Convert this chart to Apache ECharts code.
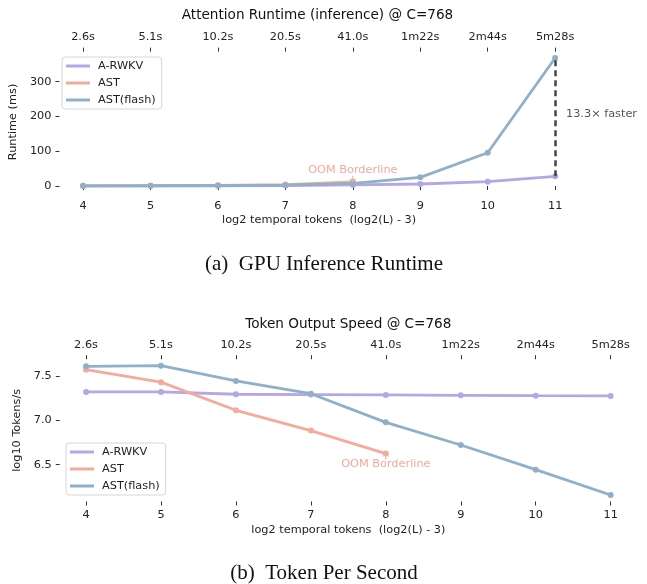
<!DOCTYPE html>
<html>
<head>
<meta charset="utf-8">
<script src="https://cdn.jsdelivr.net/npm/echarts@6/dist/echarts.min.js"></script>
<style>
  html, body { margin: 0; padding: 0; background: #fff; }
  #main { width: 647px; height: 584px; }
</style>
</head>
<body>
<div id="main"></div>
<script>
  // x 轴：log2 temporal tokens
  var xTicks = [4, 5, 6, 7, 8, 9, 10, 11];
  var timeLabels = ['2.6s', '5.1s', '10.2s', '20.5s', '41.0s', '1m22s', '2m44s', '5m28s'];

  // (a) runtime, ms
  var rwkvA  = [0.3, 0.5, 0.8, 1.5, 3, 5.8, 12.4, 27.7];
  var astA   = [0.5, 1, 2, 4, 12];
  var flashA = [0.4, 0.8, 1.5, 2.5, 7.7, 25, 95.7, 368];
  var yTicksA = [0, 100, 200, 300];

  // (b) log10 tokens/s
  var rwkvB  = [7.32, 7.32, 7.294, 7.29, 7.286, 7.282, 7.278, 7.275];
  var astB   = [7.571, 7.43, 7.113, 6.884, 6.625];
  var flashB = [7.609, 7.616, 7.444, 7.30, 6.977, 6.722, 6.444, 6.158];
  var yTicksB = [6.5, 7.0, 7.5];

  var C_RWKV = '#b5a6e6', C_AST = '#f4aa9c', C_FLASH = '#8fb0c8';
  var FONT = 'DejaVu Sans';

  function pairs(ys) {
    return ys.map(function (v, i) { return [xTicks[i], v]; });
  }
  // matplotlib 默认 5% 边距
  function pad(arrs) {
    var all = [].concat.apply([], arrs);
    var lo = Math.min.apply(null, all), hi = Math.max.apply(null, all);
    var m = (hi - lo) * 0.05;
    return [lo - m, hi + m];
  }
  var extA = pad([rwkvA, astA, flashA]);
  var extB = pad([rwkvB, astB, flashB]);

  function xAxisPair(gi, nameGap) {
    var base = {
      gridIndex: gi, type: 'value', min: 3.65, max: 11.35,
      axisLine: { show: false }, splitLine: { show: false },
      axisTick: { customValues: xTicks, length: 4, lineStyle: { color: '#333', width: 1 } }
    };
    return [
      Object.assign({}, base, {
        position: 'bottom',
        name: 'log2 temporal tokens  (log2(L) - 3)',
        nameLocation: 'middle', nameGap: nameGap,
        nameTextStyle: { fontFamily: FONT, fontSize: 11.3, color: '#222' },
        axisLabel: { customValues: xTicks, margin: 8, fontFamily: FONT, fontSize: 11.3, color: '#222' }
      }),
      Object.assign({}, base, {
        position: 'top',
        axisLabel: {
          customValues: xTicks, margin: 9, fontFamily: FONT, fontSize: 11.3, color: '#222',
          formatter: function (v) { return timeLabels[xTicks.indexOf(Math.round(v))]; }
        }
      })
    ];
  }

  function yAxis(gi, ext, ticks, name, nameGap, fmt) {
    return {
      gridIndex: gi, type: 'value', min: ext[0], max: ext[1],
      axisLine: { show: false }, splitLine: { show: false },
      axisTick: { show: true, customValues: ticks, length: 4, lineStyle: { color: '#333', width: 1 } },
      axisLabel: { customValues: ticks, margin: 8, fontFamily: FONT, fontSize: 11.3, color: '#222', formatter: fmt },
      name: name, nameLocation: 'middle', nameGap: nameGap,
      nameTextStyle: { fontFamily: FONT, fontSize: 11.3, color: '#222' }
    };
  }

  function line(name, data, color, xi, yi, extra) {
    return Object.assign({
      name: name, type: 'line', xAxisIndex: xi, yAxisIndex: yi,
      data: pairs(data), clip: false,
      symbol: 'circle', symbolSize: 6, showSymbol: true,
      lineStyle: { color: color, width: 2.8 },
      itemStyle: { color: color },
      emphasis: { disabled: true }
    }, extra || {});
  }

  // OOM 标注箭头
  function oom(y, up, labelDy, symDy) {
    return {
      silent: true,
      symbol: up ? 'path://M5,10 L5,0 M0,5 L5,0 L10,5' : 'path://M5,0 L5,10 M0,5 L5,10 L10,5',
      symbolSize: [6, 6], symbolOffset: [0, symDy],
      itemStyle: { color: 'none', borderColor: C_AST, borderWidth: 1 },
      label: {
        show: true, position: 'inside', offset: [0, labelDy], formatter: 'OOM Borderline',
        fontFamily: FONT, fontSize: 11.3, color: C_AST
      },
      data: [{ coord: [8, y] }]
    };
  }

  function legend(left, top) {
    return {
      orient: 'vertical', left: left, top: top,
      data: ['A-RWKV', 'AST', 'AST(flash)'],
      icon: 'rect', itemWidth: 24, itemHeight: 3, itemGap: 3,
      padding: [2, 6, 2, 4],
      backgroundColor: 'rgba(255,255,255,0.8)',
      borderColor: '#d6d6d6', borderWidth: 1, borderRadius: 3,
      textStyle: { fontFamily: FONT, fontSize: 11.3, color: '#222', lineHeight: 14, padding: [0, 0, 0, 3] },
      selectedMode: false
    };
  }

  var chart = echarts.init(document.getElementById('main'));
  var xa = xAxisPair(0, 22), xb = xAxisPair(1, 23);

  var option = {
    animation: false,
    backgroundColor: '#fff',
    title: [
      { text: 'Attention Runtime (inference) @ C=768', left: 317.5, top: 8, textAlign: 'center', padding: 0,
        textStyle: { fontFamily: FONT, fontSize: 13.6, fontWeight: 'normal', color: '#111' } },
      { text: 'Token Output Speed @ C=768', left: 348.3, top: 317, textAlign: 'center', padding: 0,
        textStyle: { fontFamily: FONT, fontSize: 13.6, fontWeight: 'normal', color: '#111' } },
      { text: '(a)  GPU Inference Runtime', left: 324, top: 254, textAlign: 'center', padding: 0,
        textStyle: { fontFamily: 'Liberation Serif', fontSize: 21, fontWeight: 'normal', color: '#111' } },
      { text: '(b)  Token Per Second', left: 324, top: 563, textAlign: 'center', padding: 0,
        textStyle: { fontFamily: 'Liberation Serif', fontSize: 21, fontWeight: 'normal', color: '#111' } }
    ],
    legend: [legend(62, 57), legend(66, 443)],
    grid: [
      { left: 56.25, right: 68.25, top: 51.6, height: 140.7 },
      { left: 59.8, right: 10.1, top: 359.2, height: 142.3 }
    ],
    xAxis: [xa[0], xa[1], xb[0], xb[1]],
    yAxis: [
      yAxis(0, extA, yTicksA, 'Runtime (ms)', 30, function (v) { return String(v); }),
      yAxis(1, extB, yTicksB, 'log10 Tokens/s', 26, function (v) { return v.toFixed(1); })
    ],
    graphic: [
      { type: 'text', left: 566, top: 109,
        style: { text: '13.3× faster', fontFamily: FONT, fontSize: 11.3, fill: '#555' } }
    ],
    series: [
      line('A-RWKV', rwkvA, C_RWKV, 0, 0),
      line('AST', astA, C_AST, 0, 0, { markPoint: oom(astA[4], false, -9, -3) }),
      line('AST(flash)', flashA, C_FLASH, 0, 0, {
        markLine: {
          silent: true, symbol: 'none', label: { show: false },
          lineStyle: { color: '#444', type: [6, 4], width: 2.5 },
          data: [[{ coord: [11, rwkvA[7]] }, { coord: [11, flashA[7]] }]]
        }
      }),
      line('A-RWKV', rwkvB, C_RWKV, 2, 1),
      line('AST', astB, C_AST, 2, 1, { markPoint: oom(astB[4], true, 7, 3) }),
      line('AST(flash)', flashB, C_FLASH, 2, 1)
    ]
  };
  chart.setOption(option);
</script>
</body>
</html>
